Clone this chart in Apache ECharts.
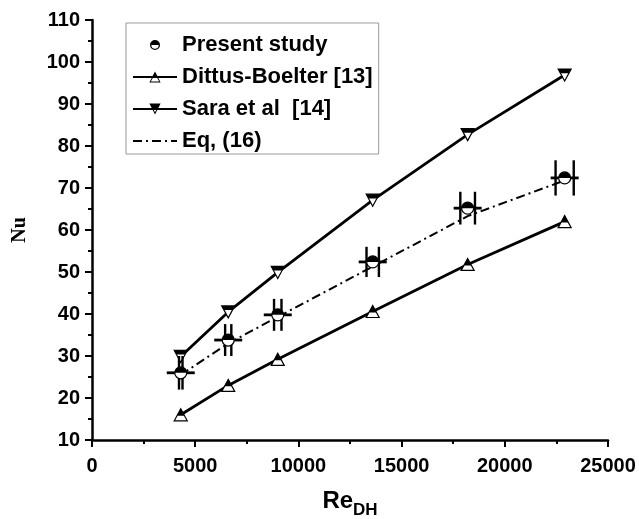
<!DOCTYPE html>
<html>
<head>
<meta charset="utf-8">
<script src="https://cdn.jsdelivr.net/npm/echarts@6/dist/echarts.min.js"></script>
<style>html,body{margin:0;padding:0;background:#fff;}#chart{width:639px;height:519px;}</style>
</head>
<body>
<div id="chart"></div>
<script>
// ---- data ----
const reValues       = [4300, 6600, 9000, 13600, 18200, 22900];
const presentStudy   = [26.0, 33.8, 39.8, 52.4, 65.2, 72.4];
const presentReErr   = [85, 150, 180, 300, 355, 440];
const presentNuErr   = [4.0, 3.8, 3.8, 3.6, 3.9, 4.2];
const dittusBoelter  = [16.0, 23.0, 29.2, 40.6, 51.8, 62.0];
const saraEtAl       = [29.9, 40.5, 49.9, 67.1, 82.7, 96.9];
const eq16           = [25.5, 33.0, 39.3, 51.3, 63.3, 71.8];
const seriesNames    = ['Present study', 'Dittus-Boelter [13]', 'Sara et al  [14]', 'Eq, (16)'];
const xAxisRange     = [0, 25000, 5000];
const yAxisRange     = [10, 110, 10];

// ---- styles ----
const FONT = "'Liberation Sans', Arial, sans-serif";
const circleIcon = 'path://M-20,-20 M120,120 M0,50 A50,50 0 1,1 100,50 A50,50 0 1,1 0,50 Z M13,50 A37,37 0 1,0 87,50 A37,37 0 1,0 13,50 Z M13,50 A37,37 0 0,1 87,50 Z';
const triUpIcon = 'path://M50,0 L100,87 L0,87 Z M50,20 L13,79 L87,79 Z M50,0 L80,50 L20,50 Z';
const triDownIcon = 'path://M0,0 L100,0 L50,87 Z M13,8 L50,68 L87,8 Z M0,0 L100,0 L80,35 L20,35 Z';

const zip = (xs, ys) => xs.map((x, i) => [x, ys[i]]);

function renderTri(params, api) {
  const p = api.coord([api.value(0), api.value(1)]);
  const down = api.value(2) === 1;
  const s = 13, h = 12;
  const cx = p[0], cy = p[1];
  let outline, top;
  if (!down) {
    outline = [[cx, cy - h/2], [cx + s/2, cy + h/2], [cx - s/2, cy + h/2]];
    const f = 0.58;
    top = [[cx, cy - h/2], [cx + f*s/2, cy - h/2 + f*h], [cx - f*s/2, cy - h/2 + f*h]];
  } else {
    outline = [[cx - s/2, cy - h/2], [cx + s/2, cy - h/2], [cx, cy + h/2]];
    const f = 0.35;
    top = [[cx - s/2, cy - h/2], [cx + s/2, cy - h/2], [cx + (1-f)*s/2, cy - h/2 + f*h], [cx - (1-f)*s/2, cy - h/2 + f*h]];
  }
  return {
    type: 'group',
    children: [
      { type: 'polygon', shape: { points: outline }, style: { fill: '#fff', stroke: '#000', lineWidth: 1.2 } },
      { type: 'polygon', shape: { points: top }, style: { fill: '#000' } }
    ]
  };
}

function renderPresent(params, api) {
  const x = api.value(0), y = api.value(1), ex = api.value(2), ey = api.value(3);
  const p = api.coord([x, y]);
  const l1 = api.coord([x - ex, y - ey]), l2 = api.coord([x - ex, y + ey]);
  const r1 = api.coord([x + ex, y - ey]), r2 = api.coord([x + ex, y + ey]);
  const hb = 14, r = 6;
  return {
    type: 'group',
    children: [
      { type: 'line', shape: { x1: l1[0], y1: l1[1], x2: l2[0], y2: l2[1] }, style: { stroke: '#000', lineWidth: 2.4 } },
      { type: 'line', shape: { x1: r1[0], y1: r1[1], x2: r2[0], y2: r2[1] }, style: { stroke: '#000', lineWidth: 2.4 } },
      { type: 'line', shape: { x1: p[0] - hb, y1: p[1], x2: p[0] + hb, y2: p[1] }, style: { stroke: '#000', lineWidth: 2.8 } },
      { type: 'circle', shape: { cx: p[0], cy: p[1], r: r }, style: { fill: '#fff', stroke: '#000', lineWidth: 1.2 } },
      { type: 'sector', shape: { cx: p[0], cy: p[1], r0: 0, r: r, startAngle: Math.PI, endAngle: 2 * Math.PI, clockwise: true }, style: { fill: '#000' } }
    ]
  };
}

const chart = echarts.init(document.getElementById('chart'), null, { renderer: 'canvas' });

const axisCommon = {
  type: 'value',
  splitLine: { show: false },
  axisLine: { show: true, onZero: false, lineStyle: { color: '#000', width: 2.5 } },
  axisTick: { show: true, inside: false, length: 7, lineStyle: { color: '#000', width: 2 } },
  minorTick: { show: true, splitNumber: 2, length: 4, lineStyle: { color: '#000', width: 2 } },
  axisLabel: { color: '#000', fontSize: 20, fontWeight: 'bold', fontFamily: FONT, formatter: v => String(v) }
};

chart.setOption({
  animation: false,
  backgroundColor: '#fff',
  grid: { left: 92, right: 31, top: 20, bottom: 79, containLabel: false, outerBoundsMode: 'none' },
  xAxis: Object.assign({}, axisCommon, {
    min: xAxisRange[0], max: xAxisRange[1], interval: xAxisRange[2],
    axisLabel: Object.assign({}, axisCommon.axisLabel, { margin: 16 }),
    name: '{a|Re}{b|DH}',
    nameLocation: 'middle',
    nameGap: 49,
    nameTextStyle: {
      rich: {
        a: { fontSize: 24, fontWeight: 'bold', fontFamily: FONT, color: '#000', lineHeight: 26, verticalAlign: 'top' },
        b: { fontSize: 17, fontWeight: 'bold', fontFamily: FONT, color: '#000', lineHeight: 17, padding: [13, 0, 0, 0], verticalAlign: 'top' }
      }
    }
  }),
  yAxis: Object.assign({}, axisCommon, {
    min: yAxisRange[0], max: yAxisRange[1], interval: yAxisRange[2],
    axisLabel: Object.assign({}, axisCommon.axisLabel, { margin: 12 }),
    name: 'Nu',
    nameLocation: 'middle',
    nameGap: 62,
    nameTextStyle: { fontSize: 20, fontWeight: 'bold', fontFamily: "'Liberation Serif', 'Times New Roman', serif", color: '#000' }
  }),
  legend: {
    orient: 'vertical',
    left: 126,
    top: 23,
    padding: [11, 6, 2, 6],
    itemWidth: 44,
    itemHeight: 14,
    itemGap: 10,
    borderColor: '#999',
    borderWidth: 1,
    selectedMode: false,
    textStyle: { fontSize: 22, fontWeight: 'bold', fontFamily: FONT, color: '#000' },
    data: [
      { name: seriesNames[0], icon: circleIcon },
      { name: seriesNames[1] },
      { name: seriesNames[2] },
      { name: seriesNames[3], itemStyle: { color: 'rgba(0,0,0,0)', borderWidth: 0, opacity: 0 } }
    ]
  },
  series: [
    {
      name: seriesNames[1], type: 'line', data: zip(reValues, dittusBoelter),
      symbol: triUpIcon, symbolSize: 13, showSymbol: false,
      itemStyle: { color: '#000' }, lineStyle: { color: '#000', width: 2.8 }, z: 2
    },
    {
      name: seriesNames[2], type: 'line', data: zip(reValues, saraEtAl),
      symbol: triDownIcon, symbolSize: 13, showSymbol: false,
      itemStyle: { color: '#000' }, lineStyle: { color: '#000', width: 2.8 }, z: 2
    },
    {
      name: seriesNames[3], type: 'line', data: zip(reValues, eq16),
      symbol: 'none', showSymbol: false,
      itemStyle: { color: '#000' }, lineStyle: { color: '#000', width: 2, type: [9, 4, 2, 4] }, z: 2
    },
    {
      name: '_triMarkers', type: 'custom', renderItem: renderTri, z: 3,
      data: reValues.map((x, i) => [x, dittusBoelter[i], 0]).concat(reValues.map((x, i) => [x, saraEtAl[i], 1])),
      encode: { x: 0, y: 1 }, silent: true
    },
    {
      name: seriesNames[0], type: 'custom', renderItem: renderPresent, z: 4,
      itemStyle: { color: '#000' },
      data: reValues.map((x, i) => [x, presentStudy[i], presentReErr[i], presentNuErr[i]]),
      encode: { x: 0, y: 1 }, silent: true
    }
  ]
});
</script>
</body>
</html>
